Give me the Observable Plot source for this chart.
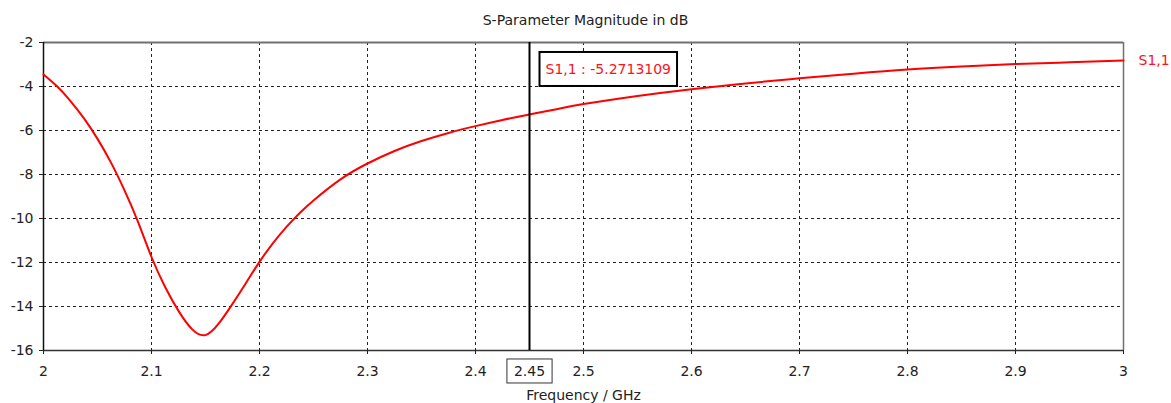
<!DOCTYPE html>
<html>
<head>
<meta charset="utf-8">
<script src="https://cdn.jsdelivr.net/npm/d3@7"></script>
<script src="https://cdn.jsdelivr.net/npm/@observablehq/plot@0.6"></script>
<style>
  html, body { margin: 0; padding: 0; background: #fff; }
  #title { height: 34px; line-height: 40px; text-align: center; font-family: "DejaVu Sans", sans-serif; font-size: 14px; color: #222; width: 1171px; box-sizing: border-box; }
</style>
</head>
<body>
<div id="title">S-Parameter Magnitude in dB</div>
<div id="chart"></div>
<script>
// ---- data ----
const freqGHz = [2.0, 2.0125, 2.025, 2.0375, 2.05, 2.0625, 2.075, 2.0875, 2.1, 2.1125, 2.125, 2.1375, 2.15, 2.1625, 2.175, 2.1875, 2.2, 2.2125, 2.225, 2.2375, 2.25, 2.275, 2.3, 2.325, 2.35, 2.375, 2.4, 2.425, 2.45, 2.475, 2.5, 2.55, 2.6, 2.65, 2.7, 2.75, 2.8, 2.85, 2.9, 2.95, 3.0];
const s11dB   = [-3.45, -3.99, -4.66, -5.45, -6.38, -7.46, -8.72, -10.15, -11.75, -13.1, -14.2, -15.03, -15.3, -14.76, -13.88, -12.93, -11.97, -11.12, -10.38, -9.74, -9.18, -8.22, -7.5, -6.93, -6.48, -6.11, -5.80, -5.52, -5.27, -5.03, -4.80, -4.43, -4.12, -3.86, -3.63, -3.42, -3.23, -3.09, -2.98, -2.90, -2.82];
const seriesName = "S1,1";
const xTicks = [2, 2.1, 2.2, 2.3, 2.4, 2.5, 2.6, 2.7, 2.8, 2.9, 3];
const yTicks = [-2, -4, -6, -8, -10, -12, -14, -16];
const markerFreq = 2.45;
const markerValue = -5.2713109;
const markerLabel = `${seriesName} : ${markerValue}`;
const xLabel = "Frequency / GHz";

const data = freqGHz.map((f, i) => ({f, v: s11dB[i]}));
const last = data[data.length - 1];

const chart = Plot.plot({
  width: 1171,
  height: 369,
  marginLeft: 43,
  marginRight: 48,
  marginTop: 8,
  marginBottom: 53,
  style: {fontFamily: "DejaVu Sans, sans-serif", fontSize: "14px", color: "#222", background: "#fff", overflow: "visible"},
  x: {domain: [2, 3]},
  y: {domain: [-16, -2]},
  marks: [
    Plot.gridX(xTicks.slice(1, -1), {stroke: "#222", strokeOpacity: 1, strokeDasharray: "3,3"}),
    Plot.gridY(yTicks.slice(1, -1), {stroke: "#222", strokeOpacity: 1, strokeDasharray: "3,3"}),
    Plot.ruleY([-2], {stroke: "#707070", strokeWidth: 2}),
    Plot.ruleX([3], {stroke: "#707070", strokeWidth: 1.5}),
    Plot.ruleY([-16], {stroke: "#333", strokeWidth: 1.5}),
    Plot.ruleX([2], {stroke: "#111", strokeWidth: 1.5}),
    Plot.axisX(xTicks, {tickSize: 4, tickPadding: 12, tickFormat: d => String(d), label: xLabel, labelAnchor: "center", labelArrow: "none", labelOffset: 49, stroke: "#222"}),
    Plot.axisY(yTicks, {tickSize: 4, tickPadding: 6, tickFormat: d => String(d), label: null, stroke: "#222"}),
    Plot.line(data, {x: "f", y: "v", stroke: "#ff0000", strokeWidth: 2, curve: "natural"}),
    Plot.ruleX([markerFreq], {stroke: "#000", strokeWidth: 2}),
    Plot.text([markerFreq], {x: d => d, frameAnchor: "bottom", dy: 21, text: d => String(d), fill: "#222", lineAnchor: "middle"}),
    Plot.text([markerLabel], {x: markerFreq, frameAnchor: "top", dx: 16, dy: 27, textAnchor: "start", lineAnchor: "middle", fill: "#ff1020", text: d => d}),
    Plot.text([last], {x: "f", y: "v", dx: 15, textAnchor: "start", fill: "#ff1020", text: () => seriesName})
  ]
});
document.getElementById("chart").appendChild(chart);

// draw boxes around the marker labels, sized from the rendered text
const svgNS = "http://www.w3.org/2000/svg";
function boxAround(textEl, padX, padY, stroke, sw) {
  const b = textEl.getBBox();
  const r = document.createElementNS(svgNS, "rect");
  r.setAttribute("x", b.x - padX);
  r.setAttribute("y", b.y - padY);
  r.setAttribute("width", b.width + 2 * padX);
  r.setAttribute("height", b.height + 2 * padY);
  r.setAttribute("fill", "#fff");
  r.setAttribute("stroke", stroke);
  r.setAttribute("stroke-width", sw);
  const t = textEl.getAttribute("transform");
  if (t) r.setAttribute("transform", t);
  textEl.parentNode.insertBefore(r, textEl);
}
chart.querySelectorAll("text").forEach(t => {
  if (t.textContent === markerLabel) boxAround(t, 6, 9, "#000", 2);
  else if (t.textContent === String(markerFreq)) boxAround(t, 7, 4, "#333", 1);
});
</script>
</body>
</html>
